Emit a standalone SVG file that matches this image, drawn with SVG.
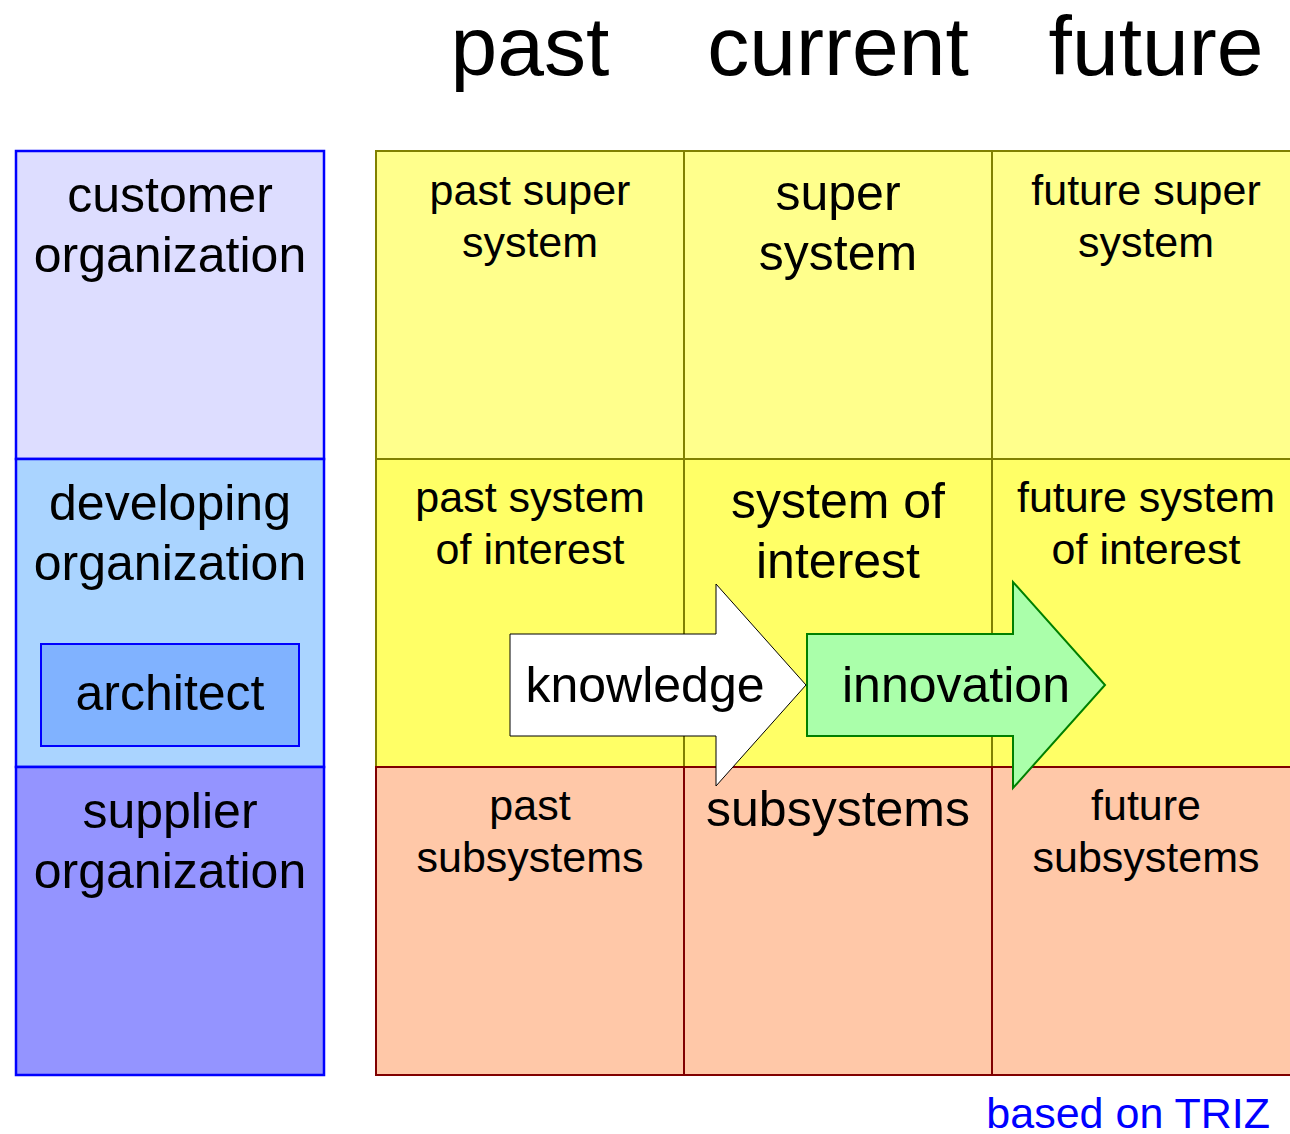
<svg xmlns="http://www.w3.org/2000/svg" width="1290" height="1134" viewBox="0 0 1290 1134">
<style>
text{font-family:"Liberation Sans",Arial,sans-serif;fill:#000;text-anchor:middle}
.org{stroke:#0000FF;stroke-width:2.5}
.ys{stroke:#808000;stroke-width:2}
.rs{stroke:#800000;stroke-width:2}
.hd{font-size:84px}
.big{font-size:50px}
.sm{font-size:43px}
</style>
<rect width="1290" height="1134" fill="#fff"/>
<g id="headers">
<text class="hd" x="530" y="75">past</text>
<text class="hd" x="838" y="75">current</text>
<text class="hd" x="1156" y="75">future</text>
</g>
<g id="customer-organization">
<rect class="org" x="16" y="151" width="308" height="308" fill="#DDDDFF"/>
<text class="big" x="170" y="212">customer</text>
<text class="big" x="170" y="272">organization</text>
</g>
<g id="developing-organization">
<rect class="org" x="16" y="459" width="308" height="308" fill="#AAD4FF"/>
<text class="big" x="170" y="520">developing</text>
<text class="big" x="170" y="580">organization</text>
</g>
<g id="architect">
<rect x="41" y="644" width="258" height="102" fill="#80B2FF" stroke="#0000FF" stroke-width="2"/>
<text class="big" x="170" y="710">architect</text>
</g>
<g id="supplier-organization">
<rect class="org" x="16" y="767" width="308" height="308" fill="#9494FF"/>
<text class="big" x="170" y="828">supplier</text>
<text class="big" x="170" y="888">organization</text>
</g>
<g id="past-super-system">
<rect class="ys" x="376" y="151" width="308" height="308" fill="#FFFF8C"/>
<text class="sm" x="530" y="205">past super</text>
<text class="sm" x="530" y="257">system</text>
</g>
<g id="super-system">
<rect class="ys" x="684" y="151" width="308" height="308" fill="#FFFF8C"/>
<text class="big" x="838" y="210">super</text>
<text class="big" x="838" y="270">system</text>
</g>
<g id="future-super-system">
<rect class="ys" x="992" y="151" width="308" height="308" fill="#FFFF8C"/>
<text class="sm" x="1146" y="205">future super</text>
<text class="sm" x="1146" y="257">system</text>
</g>
<g id="past-system-of-interest">
<rect class="ys" x="376" y="459" width="308" height="308" fill="#FFFF66"/>
<text class="sm" x="530" y="512">past system</text>
<text class="sm" x="530" y="564">of interest</text>
</g>
<g id="system-of-interest">
<rect class="ys" x="684" y="459" width="308" height="308" fill="#FFFF66"/>
<text class="big" x="838" y="518">system of</text>
<text class="big" x="838" y="578">interest</text>
</g>
<g id="future-system-of-interest">
<rect class="ys" x="992" y="459" width="308" height="308" fill="#FFFF66"/>
<text class="sm" x="1146" y="512">future system</text>
<text class="sm" x="1146" y="564">of interest</text>
</g>
<g id="past-subsystems">
<rect class="rs" x="376" y="767" width="308" height="308" fill="#FFC8A8"/>
<text class="sm" x="530" y="820">past</text>
<text class="sm" x="530" y="872">subsystems</text>
</g>
<g id="subsystems">
<rect class="rs" x="684" y="767" width="308" height="308" fill="#FFC8A8"/>
<text class="big" x="838" y="826">subsystems</text>
</g>
<g id="future-subsystems">
<rect class="rs" x="992" y="767" width="308" height="308" fill="#FFC8A8"/>
<text class="sm" x="1146" y="820">future</text>
<text class="sm" x="1146" y="872">subsystems</text>
</g>
<g id="connectors">
<g id="knowledge">
<path d="M510,634 H716 V584 L806,685 L716,786 V736 H510 Z" fill="#fff" stroke="#000" stroke-width="1"/>
<text class="big" x="645" y="702">knowledge</text>
</g>
<g id="innovation">
<path d="M807,634 H1013 V582 L1105,685 L1013,788 V736 H807 Z" fill="#AAFFAA" stroke="#008000" stroke-width="2"/>
<text class="big" x="956" y="702">innovation</text>
</g>
</g>
<g id="note">
<text x="1270" y="1128" style="font-size:43px;fill:#0000FF;text-anchor:end">based on TRIZ</text>
</g>
</svg>
